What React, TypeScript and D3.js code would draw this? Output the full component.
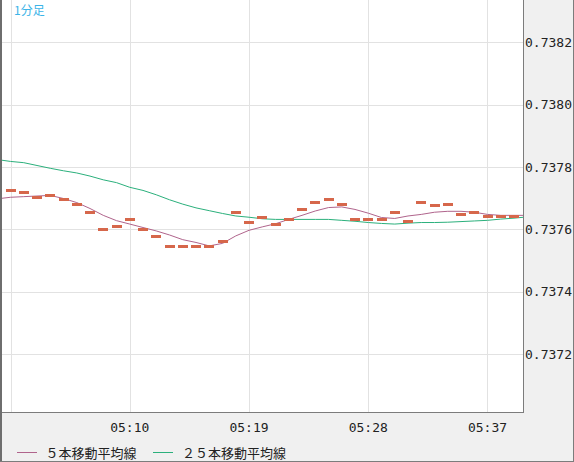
import React from "react";
import * as d3 from "d3";

const times = [
  "05:01","05:02","05:03","05:04","05:05","05:06","05:07","05:08","05:09","05:10",
  "05:11","05:12","05:13","05:14","05:15","05:16","05:17","05:18","05:19","05:20",
  "05:21","05:22","05:23","05:24","05:25","05:26","05:27","05:28","05:29","05:30",
  "05:31","05:32","05:33","05:34","05:35","05:36","05:37","05:38","05:39",
];
const tickLabels = ["05:10", "05:19", "05:28", "05:37"];
const gridTimes = ["05:01", "05:10", "05:19", "05:28", "05:37"];
const yTicks = [0.7372, 0.7374, 0.7376, 0.7378, 0.738, 0.7382];

const candles = [
  0.737724, 0.737718, 0.737702, 0.737708, 0.737696, 0.73768, 0.737654, 0.7376, 0.737609, 0.737631,
  0.7376, 0.737577, 0.737545, 0.737545, 0.737545, 0.737545, 0.737561, 0.737654, 0.737622, 0.737638,
  0.737615, 0.737631, 0.737664, 0.737686, 0.737696, 0.73768, 0.737631, 0.737631, 0.737631, 0.737654,
  0.737625, 0.737686, 0.737676, 0.73768, 0.737648, 0.737654, 0.737641, 0.737641, 0.737641,
];

// moving averages, from one bar before the first visible bar to one bar after the last
const ma5 = [
  0.737698, 0.737703, 0.737705, 0.737707, 0.737709, 0.737699, 0.737686, 0.737667, 0.737645, 0.737628,
  0.737617, 0.737606, 0.737595, 0.737582, 0.737567, 0.737558, 0.737547, 0.737555, 0.737579, 0.737597,
  0.737608, 0.737618, 0.737632, 0.737645, 0.737659, 0.73767, 0.737672, 0.737664, 0.737652, 0.737638,
  0.737635, 0.737643, 0.737648, 0.737655, 0.737658, 0.737658, 0.737655, 0.737648, 0.737645, 0.737645,
  0.737645,
];
const ma25 = [
  0.737824, 0.737818, 0.737814, 0.737805, 0.737796, 0.737788, 0.737781, 0.737771, 0.737759, 0.73775,
  0.737735, 0.737725, 0.737711, 0.737695, 0.737681, 0.737669, 0.73766, 0.737651, 0.737643, 0.737639,
  0.737634, 0.737632, 0.737632, 0.737632, 0.737632, 0.737632, 0.737629, 0.737626, 0.737622, 0.737619,
  0.737617, 0.73762, 0.737622, 0.737622, 0.737623, 0.737625, 0.737627, 0.737629, 0.737633, 0.737636,
  0.73764,
];

const title = "1分足";
const legendItems = [
  { label: "５本移動平均線", color: "#b0648c" },
  { label: "２５本移動平均線", color: "#2bb07c" },
];

const W = 574;
const H = 462;
const plot = { left: 2, top: 0, right: 523, bottom: 412 };

export default function App() {
  const x = d3.scaleLinear().domain([0, times.length - 1]).range([10.5, 514]);
  const y = d3.scaleLinear().domain([0.737014, 0.738336]).range([plot.bottom, plot.top]);
  const idx = (t: string) => times.indexOf(t);

  const line = d3
    .line<number>()
    .x((_, i) => x(i - 1))
    .y((d) => y(d));

  const candleW = 10;
  const candleH = 3;
  const mono = "'DejaVu Sans Mono', monospace";
  const cjk = "'Noto Sans CJK JP', sans-serif";

  return (
    <svg
      width={W}
      height={H}
      style={{ position: "absolute", left: 0, top: 0, display: "block" }}
    >
      <defs>
        <clipPath id="plotClip">
          <rect x={plot.left} y={plot.top} width={plot.right - plot.left} height={plot.bottom - plot.top} />
        </clipPath>
      </defs>
      <rect x={0} y={0} width={W} height={H} fill="#f0f0f0" />
      <rect x={plot.left} y={plot.top} width={plot.right - plot.left} height={plot.bottom - plot.top} fill="#ffffff" />

      {/* grid */}
      <g shapeRendering="crispEdges" stroke="#e2e2e2" strokeWidth={1}>
        {yTicks.map((t) => (
          <line key={"h" + t} x1={plot.left} x2={plot.right} y1={Math.round(y(t)) + 0.5} y2={Math.round(y(t)) + 0.5} />
        ))}
        {gridTimes.map((t) => (
          <line key={"v" + t} x1={Math.round(x(idx(t))) + 0.5} x2={Math.round(x(idx(t))) + 0.5} y1={plot.top} y2={plot.bottom} />
        ))}
      </g>

      <g clipPath="url(#plotClip)">
        <path d={line(ma25) || ""} fill="none" stroke="#2bb07c" strokeWidth={1} />
        <path d={line(ma5) || ""} fill="none" stroke="#b0648c" strokeWidth={1} />
        <g shapeRendering="crispEdges">
          {candles.map((v, i) => (
            <rect
              key={i}
              x={x(i) - candleW / 2}
              y={y(v) - candleH / 2}
              width={candleW}
              height={candleH}
              fill="#d6674b"
            />
          ))}
        </g>
      </g>

      {/* borders */}
      <g shapeRendering="crispEdges" fill="none">
        <line x1={plot.right + 0.5} x2={plot.right + 0.5} y1={0} y2={plot.bottom + 1} stroke="#7c7c7c" />
        <line x1={0} x2={plot.right + 1} y1={plot.bottom + 0.5} y2={plot.bottom + 0.5} stroke="#7c7c7c" />
        <line x1={1} x2={1} y1={0} y2={H} stroke="#6e6e6e" strokeWidth={2} />
        <line x1={W - 0.5} x2={W - 0.5} y1={0} y2={H} stroke="#7c7c7c" />
        <line x1={0} x2={W} y1={H - 0.5} y2={H - 0.5} stroke="#7c7c7c" />
      </g>

      {/* y axis labels */}
      {yTicks.map((t) => (
        <text
          key={"yl" + t}
          x={plot.right + 2}
          y={y(t) + 4.5}
          fontFamily={mono}
          fontSize={13}
          fill="#222"
        >
          {t.toFixed(4)}
        </text>
      ))}

      {/* x axis labels */}
      {tickLabels.map((t) => (
        <text
          key={"xl" + t}
          x={x(idx(t))}
          y={432}
          textAnchor="middle"
          fontFamily={mono}
          fontSize={13}
          fill="#222"
        >
          {t}
        </text>
      ))}

      {/* title */}
      <text x={14} y={15} fontFamily={cjk} fontSize={12} fill="#3cb4e8">
        {title}
      </text>

      {/* legend */}
      {legendItems.map((it, i) => {
        const lx = i === 0 ? 16.5 : 153;
        return (
          <g key={it.label}>
            <line x1={lx} x2={lx + 20} y1={452.5} y2={452.5} stroke={it.color} strokeWidth={1} shapeRendering="crispEdges" />
            <text x={lx + 29} y={457.5} fontFamily={cjk} fontSize={13} fill="#222">
              {it.label}
            </text>
          </g>
        );
      })}
    </svg>
  );
}
